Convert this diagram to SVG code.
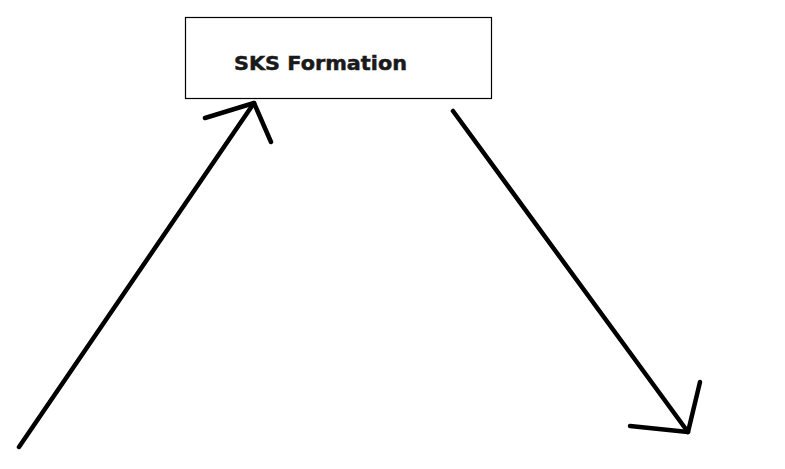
<svg xmlns="http://www.w3.org/2000/svg" width="785" height="469" viewBox="0 0 785 469">
<style>
.box{fill:#fff;stroke:#000;stroke-width:1.2}
.lbl{font-family:"DejaVu Sans","Liberation Sans",sans-serif;font-weight:bold;font-size:20px;fill:#1a1a1a;stroke:#1a1a1a;stroke-width:0.5}
.con{fill:none;stroke:#000;stroke-width:4.5;stroke-linecap:round;stroke-linejoin:round}
</style>
<rect width="785" height="469" fill="#fff"/>
<g id="node-sks">
<rect class="box" x="185.5" y="17.5" width="306" height="81"/>
<text class="lbl" x="234" y="69.5" textLength="173" lengthAdjust="spacingAndGlyphs">SKS Formation</text>
</g>
<g id="connectors">
<path class="con" d="M19,447 L254,103"/>
<path class="con" d="M205,118 L254,103 L271,142"/>
<path class="con" d="M453,111 L688,432"/>
<path class="con" d="M630,426 L688,432 L700,382"/>
</g>
</svg>
